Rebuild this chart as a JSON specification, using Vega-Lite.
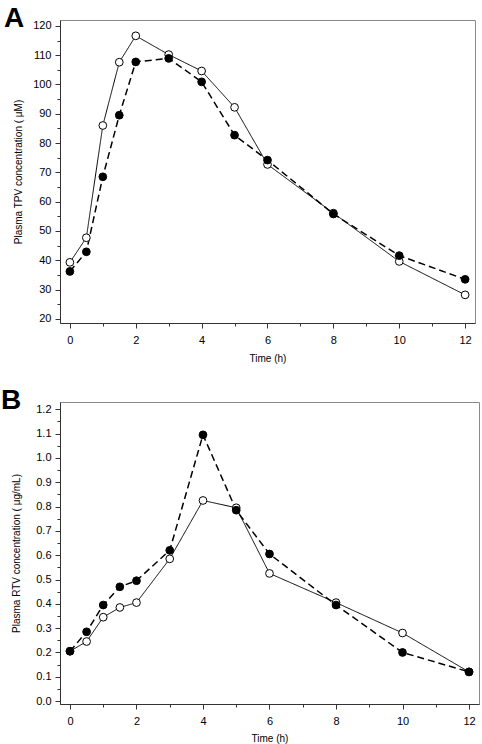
{
  "$schema": "https://vega.github.io/schema/vega-lite/v6.json",
  "padding": {"left": 0, "top": 4, "right": 0, "bottom": 0},
  "autosize": {"type": "pad"},
  "background": "white",
  "config": {
    "font": "Liberation Sans",
    "view": {"stroke": "#8a8a8a", "strokeWidth": 1},
    "axis": {
      "domainColor": "#333", "tickColor": "#333", "labelColor": "#000", "titleColor": "#000",
      "labelFontSize": 11, "titleFontSize": 10, "titleFontWeight": "normal", "grid": false,
      "labelFont": "Liberation Sans", "titleFont": "Liberation Sans", "domainWidth": 1, "tickWidth": 1
    },
    "title": {"font": "Liberation Sans", "fontSize": 28, "fontWeight": "bold", "anchor": "start", "frame": "group", "baseline": "alphabetic", "offset": -7, "color": "#000"}
  },
  "datasets": {
    "A": [
      {"t": 0, "series": "open", "c": 39.3}, {"t": 0.5, "series": "open", "c": 47.7}, {"t": 1, "series": "open", "c": 86},
      {"t": 1.5, "series": "open", "c": 107.6}, {"t": 2, "series": "open", "c": 116.6}, {"t": 3, "series": "open", "c": 110.2},
      {"t": 4, "series": "open", "c": 104.6}, {"t": 5, "series": "open", "c": 92.2}, {"t": 6, "series": "open", "c": 72.7},
      {"t": 8, "series": "open", "c": 56.1}, {"t": 10, "series": "open", "c": 39.6}, {"t": 12, "series": "open", "c": 28.2},
      {"t": 0, "series": "filled", "c": 36.2}, {"t": 0.5, "series": "filled", "c": 42.9}, {"t": 1, "series": "filled", "c": 68.5},
      {"t": 1.5, "series": "filled", "c": 89.5}, {"t": 2, "series": "filled", "c": 107.7}, {"t": 3, "series": "filled", "c": 108.9},
      {"t": 4, "series": "filled", "c": 100.9}, {"t": 5, "series": "filled", "c": 82.7}, {"t": 6, "series": "filled", "c": 74.2},
      {"t": 8, "series": "filled", "c": 55.8}, {"t": 10, "series": "filled", "c": 41.6}, {"t": 12, "series": "filled", "c": 33.5}
    ],
    "B": [
      {"t": 0, "series": "open", "c": 0.205}, {"t": 0.5, "series": "open", "c": 0.245}, {"t": 1, "series": "open", "c": 0.345},
      {"t": 1.5, "series": "open", "c": 0.385}, {"t": 2, "series": "open", "c": 0.405}, {"t": 3, "series": "open", "c": 0.585},
      {"t": 4, "series": "open", "c": 0.825}, {"t": 5, "series": "open", "c": 0.795}, {"t": 6, "series": "open", "c": 0.525},
      {"t": 8, "series": "open", "c": 0.405}, {"t": 10, "series": "open", "c": 0.28}, {"t": 12, "series": "open", "c": 0.12},
      {"t": 0, "series": "filled", "c": 0.205}, {"t": 0.5, "series": "filled", "c": 0.285}, {"t": 1, "series": "filled", "c": 0.395},
      {"t": 1.5, "series": "filled", "c": 0.47}, {"t": 2, "series": "filled", "c": 0.495}, {"t": 3, "series": "filled", "c": 0.62},
      {"t": 4, "series": "filled", "c": 1.095}, {"t": 5, "series": "filled", "c": 0.785}, {"t": 6, "series": "filled", "c": 0.605},
      {"t": 8, "series": "filled", "c": 0.395}, {"t": 10, "series": "filled", "c": 0.2}, {"t": 12, "series": "filled", "c": 0.12}
    ]
  },
  "columns": 1,
  "align": "none",
  "spacing": 22,
  "concat": [
    {
      "title": {"text": "A", "dx": -56, "dy": 6},
      "width": 415,
      "height": 303,
      "data": {"name": "A"},
      "encoding": {
        "x": {"field": "t", "type": "quantitative", "title": "Time (h)",
          "scale": {"domain": [-0.3, 12.3], "nice": false, "zero": false},
          "axis": {"values": [0, 1, 2, 3, 4, 5, 6, 7, 8, 9, 10, 11, 12], "labelExpr": "datum.value % 2 == 0 ? datum.label : ''",
            "tickSize": {"condition": {"test": "datum.value % 2 == 0", "value": 5}, "value": 3},
            "labelPadding": 6, "titlePadding": 8, "labelFlush": false}},
        "y": {"field": "c", "type": "quantitative", "title": "Plasma TPV concentration ( μM)",
          "scale": {"domain": [18.6, 122], "nice": false, "zero": false},
          "axis": {"values": [20, 25, 30, 35, 40, 45, 50, 55, 60, 65, 70, 75, 80, 85, 90, 95, 100, 105, 110, 115, 120],
            "labelExpr": "datum.value % 10 == 0 ? datum.label : ''",
            "tickSize": {"condition": {"test": "datum.value % 10 == 0", "value": 5}, "value": 3},
            "labelPadding": 4, "titlePadding": 9, "labelFlush": false}}
      },
      "layer": [
        {"mark": {"type": "line", "color": "black"},
          "encoding": {
            "strokeDash": {"field": "series", "type": "nominal", "scale": {"domain": ["open", "filled"], "range": [[1, 0], [7, 4]]}, "legend": null},
            "strokeWidth": {"field": "series", "type": "nominal", "scale": {"domain": ["open", "filled"], "range": [1, 1.5]}, "legend": null}
          }},
        {"mark": {"type": "point", "shape": "circle", "filled": true, "stroke": "black", "strokeWidth": 1, "size": 60, "opacity": 1},
          "encoding": {
            "fill": {"field": "series", "type": "nominal", "scale": {"domain": ["open", "filled"], "range": ["white", "black"]}, "legend": null}
          }}
      ]
    },
    {
      "title": {"text": "B", "dx": -59, "dy": 6},
      "width": 419,
      "height": 302,
      "data": {"name": "B"},
      "encoding": {
        "x": {"field": "t", "type": "quantitative", "title": "Time (h)",
          "scale": {"domain": [-0.3, 12.3], "nice": false, "zero": false},
          "axis": {"values": [0, 1, 2, 3, 4, 5, 6, 7, 8, 9, 10, 11, 12], "labelExpr": "datum.value % 2 == 0 ? datum.label : ''",
            "tickSize": {"condition": {"test": "datum.value % 2 == 0", "value": 5}, "value": 3},
            "labelPadding": 6, "titlePadding": 7, "labelFlush": false}},
        "y": {"field": "c", "type": "quantitative", "title": "Plasma RTV concentration ( μg/mL)",
          "scale": {"domain": [-0.012, 1.23], "nice": false, "zero": false},
          "axis": {"values": [0, 0.05, 0.1, 0.15, 0.2, 0.25, 0.3, 0.35, 0.4, 0.45, 0.5, 0.55, 0.6, 0.65, 0.7, 0.75, 0.8, 0.85, 0.9, 0.95, 1.0, 1.05, 1.1, 1.15, 1.2],
            "labelExpr": "round(datum.value * 100) % 10 == 0 ? format(datum.value, '.1f') : ''",
            "tickSize": {"condition": {"test": "round(datum.value * 100) % 10 == 0", "value": 5}, "value": 3},
            "labelPadding": 4, "titlePadding": 14, "labelFlush": false}}
      },
      "layer": [
        {"mark": {"type": "line", "color": "black"},
          "encoding": {
            "strokeDash": {"field": "series", "type": "nominal", "scale": {"domain": ["open", "filled"], "range": [[1, 0], [7, 4]]}, "legend": null},
            "strokeWidth": {"field": "series", "type": "nominal", "scale": {"domain": ["open", "filled"], "range": [1, 1.5]}, "legend": null}
          }},
        {"mark": {"type": "point", "shape": "circle", "filled": true, "stroke": "black", "strokeWidth": 1, "size": 60, "opacity": 1},
          "encoding": {
            "fill": {"field": "series", "type": "nominal", "scale": {"domain": ["open", "filled"], "range": ["white", "black"]}, "legend": null}
          }}
      ]
    }
  ]
}
